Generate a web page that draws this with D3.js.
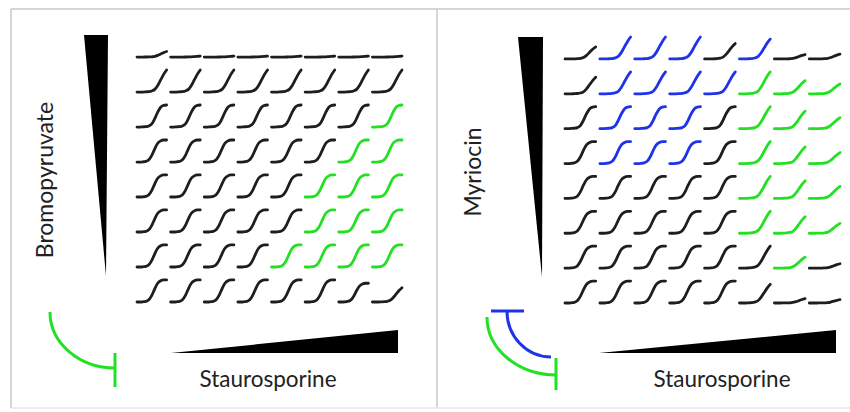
<!DOCTYPE html>
<html>
<head>
<meta charset="utf-8">
<script src="https://cdn.jsdelivr.net/npm/d3@7"></script>
<style>
  body { margin: 0; background: #fff; }
  svg { display: block; }
  text { font-family: Lato, "Open Sans", sans-serif; fill: #222; }
</style>
</head>
<body>
<div id="chart"></div>
<script>
// staurosporine doses along x, inhibitor doses down y (highest at top)
var stauroDoses = ["S1", "S2", "S3", "S4", "S5", "S6", "S7", "S8"];
var inhibDoses = ["I8", "I7", "I6", "I5", "I4", "I3", "I2", "I1"];

// growth curve time points and normalised OD templates
var timePoints = [0, 1, 2, 3, 4, 5, 6, 7, 8, 9, 10];
var shapeS = [0, 0, 0.01, 0.03, 0.1, 0.3, 0.6, 0.85, 0.96, 1, 1];      // full sigmoid with plateau
var shapeT = [0, 0, 0.01, 0.02, 0.05, 0.14, 0.38, 0.68, 0.9, 0.98, 1]; // late sigmoid, small curl
var shapeJ = [0, 0, 0, 0.01, 0.02, 0.05, 0.12, 0.3, 0.55, 0.8, 1];     // still rising at the end

// left panel: bromopyruvate x staurosporine
var bromoShape = ["JJJJJJJJ", "JJJJJJJJ", "TTTTTTTT", "SSSSSSSS",
                  "SSSSSSSS", "SSSSSSSS", "SSSSSSSS", "SSSSSSSJ"];
var bromoHeight = [
  [0.25, 0.04, 0.04, 0.04, 0.04, 0.04, 0.04, 0.04],
  [1, 1, 1, 1, 1, 1, 1, 1],
  [1, 1, 1, 1, 1, 1, 1, 1],
  [1, 1, 1, 1, 1, 1, 1, 1],
  [1, 1, 1, 1, 1, 1, 1, 1],
  [1, 1, 1, 1, 1, 1, 1, 1],
  [1, 1, 1, 1, 1, 1, 1, 1],
  [1, 1, 1, 1, 1, 1, 0.85, 0.65]
];
var bromoColor = ["kkkkkkkk", "kkkkkkkk", "kkkkkkkg", "kkkkkkgg",
                  "kkkkkggg", "kkkkkggg", "kkkkgggg", "kkkkkkkk"];

// right panel: myriocin x staurosporine
var myrioShape = ["JJJJJJJJ", "JJJJJJJJ", "TTTTTJJJ", "SSSSSJJJ",
                  "SSSSSJJJ", "SSSSSJJJ", "SSSSSJJJ", "SSSSSJJJ"];
var myrioHeight = [
  [0.55, 1, 1, 1, 0.7, 0.9, 0.2, 0.22],
  [0.75, 1, 1, 1, 1, 1, 0.6, 0.45],
  [1, 1, 1, 1, 1, 1, 0.8, 0.5],
  [1, 1, 1, 1, 1, 1, 0.75, 0.5],
  [1, 1, 1, 1, 1, 1, 0.8, 0.55],
  [1, 1, 1, 1, 1, 1, 0.75, 0.45],
  [1, 1, 1, 1, 1, 1, 0.5, 0.2],
  [1, 1, 1, 1, 1, 0.85, 0.2, 0.15]
];
var myrioColor = ["kbbbkbkk", "kbbbbggg", "kbbbkggg", "kbbbkggg",
                  "kkkkkggg", "kkkkkggg", "kkkkkkgk", "kkkkkkkk"];

var shapes = { S: shapeS, T: shapeT, J: shapeJ };
var colors = { k: "#1e1e1e", g: "#22e022", b: "#1f33e8" };

var width = 850, height = 412;

var svg = d3.select("#chart").append("svg")
    .attr("width", width)
    .attr("height", height);

// panel frames
var frame = svg.append("g").attr("stroke", "#c9c9c9").attr("stroke-width", 1.5);
frame.append("line").attr("x1", 11).attr("y1", 9).attr("x2", 850).attr("y2", 9);
frame.append("line").attr("x1", 11).attr("y1", 9).attr("x2", 11).attr("y2", 408);
frame.append("line").attr("x1", 437).attr("y1", 9).attr("x2", 437).attr("y2", 408);
frame.append("line").attr("x1", 11).attr("y1", 408).attr("x2", 850).attr("y2", 408)
    .attr("stroke", "#e6e6e6");

function drawPanel(opt) {
    var g = svg.append("g");

    var x = d3.scaleBand().domain(stauroDoses).range(opt.xRange).paddingInner(0.12);
    var y = d3.scaleBand().domain(inhibDoses).range(opt.yRange).paddingInner(0.37);

    var cells = [];
    inhibDoses.forEach(function (r, i) {
        stauroDoses.forEach(function (c, j) {
            cells.push({
                row: r, col: c,
                shape: shapes[opt.shape[i][j]],
                h: opt.height[i][j],
                color: colors[opt.color[i][j]]
            });
        });
    });

    var t = d3.scaleLinear().domain([0, 10]).range([0, x.bandwidth()]);
    var od = d3.scaleLinear().domain([0, 1]).range([y.bandwidth(), 0]);

    g.selectAll("path.curve")
        .data(cells)
        .enter()
        .append("path")
        .attr("class", "curve")
        .attr("transform", function (d) {
            return "translate(" + x(d.col) + "," + y(d.row) + ")";
        })
        .attr("d", function (d) {
            var line = d3.line()
                .x(function (v, i) { return t(timePoints[i]); })
                .y(function (v) { return od(v * d.h); })
                .curve(d3.curveMonotoneX);
            return line(d.shape);
        })
        .attr("fill", "none")
        .attr("stroke", function (d) { return d.color; })
        .attr("stroke-width", 2.8)
        .attr("stroke-linecap", "round")
        .attr("stroke-linejoin", "round");

    // vertical wedge (inhibitor gradient)
    var vx = opt.vWedgeX;
    g.append("path")
        .attr("d", "M" + vx[0] + "," + opt.yRange[0] + "L" + vx[1] + "," + opt.yRange[0] +
              "L" + vx[2] + "," + (y(inhibDoses[7]) - 4) + "Z")
        .attr("fill", "#000");

    // horizontal wedge (staurosporine gradient)
    var wx0 = opt.hWedgeX0, wx1 = opt.xRange[1] - 4;
    g.append("path")
        .attr("d", "M" + wx0 + ",353L" + wx1 + ",330L" + wx1 + ",353Z")
        .attr("fill", "#000");

    g.append("text")
        .attr("x", opt.xLabelX)
        .attr("y", 387)
        .attr("text-anchor", "middle")
        .style("font-size", "22.5px")
        .text("Staurosporine");

    g.append("text")
        .attr("transform", "translate(" + opt.labelX + "," + opt.labelY + ") rotate(-90)")
        .attr("text-anchor", "middle")
        .style("font-size", "23px")
        .text(opt.label);

    return g;
}

var left = drawPanel({
    xRange: [137, 402], yRange: [35, 302],
    shape: bromoShape, height: bromoHeight, color: bromoColor,
    vWedgeX: [84, 108, 106], hWedgeX0: 171, xLabelX: 268,
    label: "Bromopyruvate", labelX: 53, labelY: 180
});

var right = drawPanel({
    xRange: [565, 840], yRange: [37, 303],
    shape: myrioShape, height: myrioHeight, color: myrioColor,
    vWedgeX: [518, 543, 542], hWedgeX0: 599, xLabelX: 722,
    label: "Myriocin", labelX: 481, labelY: 172
});

// inhibition symbols
function inhibitArc(g, color, x0, y0, x1, y1, bar) {
    var p = "M" + x0 + "," + y0 + " A" + (x1 - x0) + "," + (y1 - y0) + " 0 0 0 " + x1 + "," + y1;
    g.append("path").attr("d", p)
        .attr("fill", "none").attr("stroke", color).attr("stroke-width", 3);
    g.append("line")
        .attr("x1", bar[0]).attr("y1", bar[1]).attr("x2", bar[2]).attr("y2", bar[3])
        .attr("stroke", color).attr("stroke-width", 3);
}

inhibitArc(left, colors.g, 50, 312, 115, 368, [115, 353, 115, 387]);
inhibitArc(right, colors.g, 487, 317, 556, 375, [556, 358, 556, 390]);
inhibitArc(right, colors.b, 507, 311, 551, 357, [491, 311, 524, 311]);
</script>
</body>
</html>
